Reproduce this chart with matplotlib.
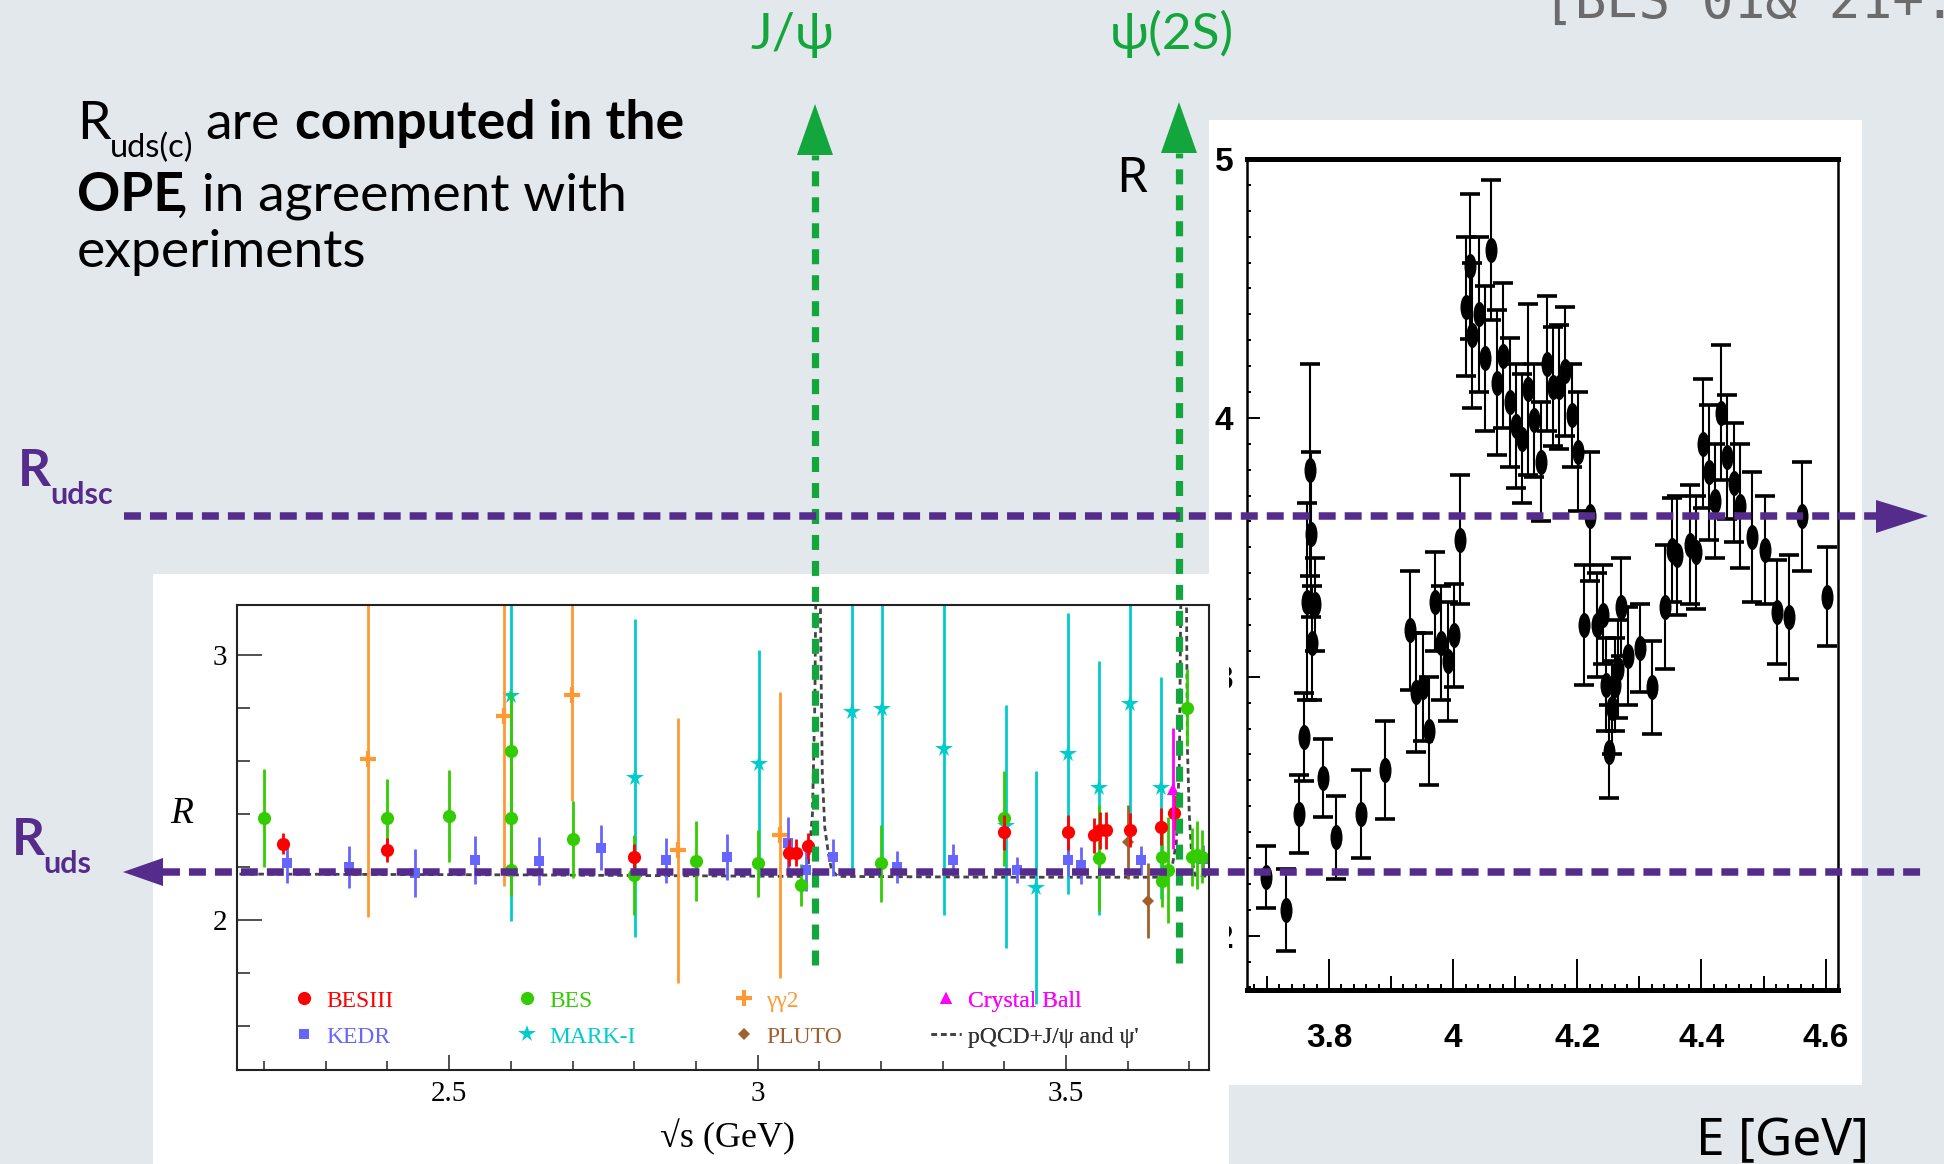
import matplotlib
matplotlib.use('Agg')
import numpy as np
import matplotlib.pyplot as plt
from matplotlib.lines import Line2D
from matplotlib.markers import MarkerStyle
from matplotlib.patches import Rectangle, Polygon
from matplotlib.transforms import Affine2D
from matplotlib.ticker import MultipleLocator, FixedLocator, FuncFormatter

plt.rcParams['lines.scale_dashes'] = False

W, H = 1944, 1164
BG = '#e3e8ed'
PURPLE = '#552b8c'
GREEN = '#12a63c'

# ---- left inset: R ratio below charm threshold ----
besiii_e = [2.231, 2.400, 2.800, 3.051, 3.063, 3.082, 3.400, 3.503, 3.545, 3.555, 3.565, 3.604, 3.654, 3.675]
besiii_r = [2.289, 2.264, 2.237, 2.255, 2.255, 2.280, 2.331, 2.331, 2.320, 2.340, 2.340, 2.340, 2.352, 2.406]
besiii_err = [0.04, 0.045, 0.05, 0.05, 0.05, 0.05, 0.065, 0.065, 0.065, 0.07, 0.07, 0.065, 0.07, 0.065]

bes_e = [2.200, 2.400, 2.500, 2.600, 2.600, 2.600, 2.700, 2.800, 2.900, 3.000, 3.070,
         3.200, 3.400, 3.553, 3.655, 3.655, 3.666, 3.696, 3.704, 3.712, 3.720]
bes_r = [2.384, 2.384, 2.393, 2.640, 2.384, 2.190, 2.305, 2.170, 2.223, 2.214, 2.132,
         2.214, 2.384, 2.233, 2.239, 2.149, 2.190, 2.802, 2.238, 2.246, 2.240]
bes_err = [0.185, 0.15, 0.175, 0.22, 0.20, 0.10, 0.145, 0.15, 0.15, 0.125, 0.08,
           0.145, 0.18, 0.20, 0.10, 0.10, 0.20, 0.145, 0.11, 0.13, 0.10]

gg2_e = [2.369, 2.589, 2.699, 2.871, 3.036]
gg2_r = [2.610, 2.770, 2.850, 2.264, 2.323]
gg2_err = [0.60, 0.64, 0.40, 0.50, 0.54]

markI_e = [2.600, 2.801, 3.002, 3.153, 3.202, 3.303, 3.403, 3.452, 3.503, 3.553, 3.604, 3.654]
markI_r = [2.846, 2.538, 2.591, 2.786, 2.796, 2.648, 2.354, 2.122, 2.628, 2.498, 2.818, 2.498]
markI_err = [0.85, 0.60, 0.43, 0.60, 0.60, 0.63, 0.46, 0.44, 0.53, 0.48, 0.45, 0.42]

cb_e = [3.674]
cb_r = [2.497]
cb_err = [0.23]

pluto_e = [3.600, 3.633]
pluto_r = [2.295, 2.074]
pluto_err = [0.14, 0.143]

kedr_e = [2.237, 2.338, 2.444, 2.542, 2.645, 2.746, 2.851, 2.951, 3.050, 3.078, 3.122,
          3.226, 3.317, 3.421, 3.504, 3.524, 3.622, 3.723]
kedr_r = [2.214, 2.201, 2.179, 2.226, 2.223, 2.273, 2.226, 2.238, 2.290, 2.190, 2.238,
          2.200, 2.226, 2.190, 2.228, 2.208, 2.226, 2.230]
kedr_err = [0.075, 0.08, 0.09, 0.09, 0.09, 0.085, 0.085, 0.088, 0.10, 0.08, 0.07,
            0.06, 0.06, 0.05, 0.06, 0.07, 0.055, 0.055]

# pQCD + J/psi and psi' curve
pqcd_e = [2.16, 2.60, 3.00, 3.070, 3.082, 3.089, 3.093, 3.095, 3.101, 3.103, 3.105, 3.109,
          3.115, 3.120, 3.130, 3.40, 3.660, 3.672, 3.679, 3.684, 3.687, 3.695, 3.697,
          3.700, 3.704, 3.709, 3.732]
pqcd_r = [2.174, 2.171, 2.166, 2.165, 2.20, 2.40, 2.83, 3.40, 3.40, 2.95, 2.55, 2.35,
          2.25, 2.19, 2.165, 2.162, 2.162, 2.20, 2.29, 2.60, 3.40, 3.40, 2.65,
          2.40, 2.24, 2.17, 2.165]

# ---- right inset: BES scan above charm threshold ----
scan_e = [3.698, 3.731, 3.751, 3.760, 3.765, 3.769, 3.771, 3.773, 3.778, 3.791, 3.811,
          3.851, 3.891, 3.931, 3.941, 3.951, 3.961, 3.971, 3.981, 3.991, 4.001, 4.011,
          4.021, 4.027, 4.031, 4.041, 4.051, 4.061, 4.071, 4.081, 4.091, 4.101, 4.111,
          4.121, 4.131, 4.141, 4.151, 4.161, 4.171, 4.181, 4.191, 4.201, 4.211, 4.221,
          4.231, 4.241, 4.246, 4.251, 4.256, 4.261, 4.266, 4.271, 4.281, 4.301, 4.321,
          4.342, 4.352, 4.361, 4.382, 4.392, 4.402, 4.412, 4.422, 4.432, 4.442, 4.452,
          4.462, 4.482, 4.502, 4.522, 4.541, 4.562, 4.602]
scan_r = [2.225, 2.099, 2.471, 2.769, 3.29, 3.80, 3.55, 3.13, 3.28, 2.61, 2.38,
          2.47, 2.64, 3.18, 2.94, 2.96, 2.79, 3.29, 3.13, 3.06, 3.16, 3.53,
          4.43, 4.585, 4.32, 4.40, 4.23, 4.65, 4.135, 4.24, 4.06, 3.97, 3.92,
          4.11, 3.99, 3.83, 4.21, 4.12, 4.12, 4.18, 4.01, 3.87, 3.20, 3.62,
          3.20, 3.24, 2.97, 2.71, 2.88, 2.97, 3.03, 3.27, 3.08, 3.11, 2.96,
          3.27, 3.49, 3.47, 3.51, 3.48, 3.90, 3.79, 3.68, 4.02, 3.85, 3.75,
          3.66, 3.54, 3.49, 3.25, 3.23, 3.62, 3.31]
scan_err = [0.12, 0.16, 0.15, 0.17, 0.38, 0.41, 0.32, 0.22, 0.18, 0.15, 0.16,
            0.17, 0.19, 0.23, 0.23, 0.21, 0.21, 0.19, 0.22, 0.23, 0.20, 0.25,
            0.27, 0.28, 0.28, 0.30, 0.28, 0.27, 0.28, 0.28, 0.25, 0.24, 0.25,
            0.33, 0.22, 0.23, 0.26, 0.23, 0.24, 0.25, 0.20, 0.23, 0.23, 0.25,
            0.20, 0.19, 0.18, 0.18, 0.18, 0.18, 0.19, 0.19, 0.19, 0.17, 0.18,
            0.24, 0.20, 0.23, 0.23, 0.22, 0.25, 0.26, 0.22, 0.26, 0.24, 0.23,
            0.24, 0.25, 0.21, 0.20, 0.24, 0.21, 0.19]

RED, GRN, ORANGE, MAGENTA = '#ff0000', '#33cc00', '#ff9933', '#ff00ff'
BLUE, CYAN, BROWN, DOT = '#6666ff', '#00cccc', '#a0602d', '#444444'


def box(x0, y0, x1, y1):
    return [x0 / W, 1 - y1 / H, (x1 - x0) / W, (y1 - y0) / H]


fig = plt.figure(figsize=(W / 100, H / 100), dpi=100, facecolor=BG)

# white panels behind the two pasted plots
for (x0, y0, x1, y1), z in [((1209, 120, 1862, 1085), 0.5), ((153, 574, 1229, 1164), 2)]:
    b = box(x0, y0, x1, y1)
    fig.add_artist(Rectangle((b[0], b[1]), b[2], b[3], transform=fig.transFigure,
                             fc='white', ec='none', zorder=z))

# ---------------- right plot ----------------
ax_r = fig.add_axes(box(1247, 159, 1838, 990), zorder=1)
ax_r.set_xlim(3.668, 4.62)
ax_r.set_ylim(1.79, 5.0)
ax_r.errorbar(scan_e, scan_r, yerr=scan_err, fmt='none', ecolor='black',
              elinewidth=1.5, capsize=7.5, capthick=2.6)
oval = MarkerStyle('o', transform=Affine2D().scale(0.45, 1.0))
ax_r.plot(scan_e, scan_r, ls='none', marker=oval, ms=17, color='black')
for s in ['left', 'right']:
    ax_r.spines[s].set_linewidth(1.8)
for s in ['top', 'bottom']:
    ax_r.spines[s].set_linewidth(3.6)
ax_r.tick_params(which='both', direction='in', top=False, right=False,
                 width=1.4, colors='black')
ax_r.tick_params(axis='y', which='major', length=9, pad=10)
ax_r.tick_params(axis='y', which='minor', length=3)
ax_r.tick_params(axis='x', which='major', length=22, pad=24)
ax_r.tick_params(axis='x', which='minor', length=4.5)
ax_r.yaxis.set_major_locator(MultipleLocator(1))
ax_r.yaxis.set_minor_locator(MultipleLocator(0.1))
xmaj = [round(v, 1) for v in np.arange(3.7, 4.61, 0.1)]
ax_r.xaxis.set_major_locator(FixedLocator(xmaj))
ax_r.xaxis.set_minor_locator(MultipleLocator(0.02))
ax_r.xaxis.set_major_formatter(FuncFormatter(
    lambda v, p: ('%g' % round(v, 1)) if abs(v * 5 - round(v * 5)) < 1e-6 else ''))
for t, v in zip(ax_r.xaxis.get_major_ticks(), xmaj):
    if abs(v * 5 - round(v * 5)) > 1e-6:
        t.tick1line.set_markersize(10)
for lab in ax_r.get_xticklabels() + ax_r.get_yticklabels():
    lab.set_fontfamily(['Liberation Sans Narrow', 'Liberation Sans'])
    lab.set_fontweight('bold')
    lab.set_fontsize(24)

# ---------------- left plot ----------------
ax_l = fig.add_axes(box(237, 605, 1209, 1070), zorder=3)
ax_l.set_xlim(2.156, 3.732)
ax_l.set_ylim(1.434, 3.19)
ax_l.plot(pqcd_e, pqcd_r, color=DOT, lw=2, dashes=(4.0, 2.8), zorder=1.5)

series = [
    (markI_e, markI_r, markI_err, '*', CYAN, 13, 0),
    (gg2_e, gg2_r, gg2_err, '+', ORANGE, 11, 3),
    (kedr_e, kedr_r, kedr_err, 's', BLUE, 7.5, 0),
    (bes_e, bes_r, bes_err, 'o', GRN, 9.5, 0),
    (pluto_e, pluto_r, pluto_err, 'D', BROWN, 6.5, 0),
    (besiii_e, besiii_r, besiii_err, 'o', RED, 9.5, 0),
    (cb_e, cb_r, cb_err, '^', MAGENTA, 8.5, 0),
]
for i, (xe, yr, er, mk, c, ms, mew) in enumerate(series):
    ax_l.errorbar(xe, yr, yerr=er, fmt=mk, color=c, ms=ms, mew=mew,
                  elinewidth=2, capsize=0, zorder=2 + i * 0.1)

for s in ax_l.spines.values():
    s.set_linewidth(1.5)
    s.set_color('#222222')
ax_l.tick_params(which='both', direction='in', top=False, right=False,
                 width=1.1, colors='#222222', labelcolor='black', labelsize=21)
ax_l.tick_params(axis='y', which='major', length=18, pad=7)
ax_l.tick_params(axis='y', which='minor', length=9)
ax_l.tick_params(axis='x', which='major', length=11, pad=8)
ax_l.tick_params(axis='x', which='minor', length=6.5)
ax_l.xaxis.set_major_locator(MultipleLocator(0.5))
ax_l.xaxis.set_minor_locator(MultipleLocator(0.1))
ax_l.yaxis.set_major_locator(MultipleLocator(1))
ax_l.yaxis.set_minor_locator(MultipleLocator(0.2))
ax_l.xaxis.set_major_formatter(FuncFormatter(lambda v, p: '%g' % v))
for lab in ax_l.get_xticklabels() + ax_l.get_yticklabels():
    lab.set_fontfamily('Liberation Serif')

# legend in four hand-placed columns
fs_leg = 17
legend_cols = [
    (304, [('o', RED, 9.5, 0, 'BESIII'), ('s', BLUE, 7.5, 0, 'KEDR')]),
    (527, [('o', GRN, 9.5, 0, 'BES'), ('*', CYAN, 13, 0, 'MARK-I')]),
    (744, [('+', ORANGE, 11, 3, 'γγ2'), ('D', BROWN, 6.5, 0, 'PLUTO')]),
    (946, [('^', MAGENTA, 8.5, 0, 'Crystal Ball'), (None, DOT, 0, 0, "pQCD+J/ψ and ψ'")]),
]
for xc, entries in legend_cols:
    handles, labels, colors = [], [], []
    for mk, c, ms, mew, lab in entries:
        if mk is None:
            handles.append(Line2D([], [], color=c, lw=2, dashes=(4.0, 2.8)))
            colors.append('#333333')
        else:
            handles.append(Line2D([], [], ls='none', marker=mk, color=c, ms=ms, mew=mew))
            colors.append(c)
        labels.append(lab)
    leg = ax_l.legend(handles, labels, loc='upper left',
                      bbox_to_anchor=((xc - 15) / W, 1 - 990 / H),
                      bbox_transform=fig.transFigure, frameon=False, borderpad=0,
                      borderaxespad=0, handlelength=30 / 23.6, handletextpad=0.3,
                      labelspacing=0.62, numpoints=1, labelcolor=colors,
                      prop={'family': 'Liberation Serif', 'size': fs_leg})
    ax_l.add_artist(leg)

# ---------------- overlay: slide annotations in pixel units ----------------
ov = fig.add_axes([0, 0, 1, 1], zorder=10)
ov.set_xlim(0, W)
ov.set_ylim(H, 0)
ov.axis('off')
ov.patch.set_visible(False)

# resonance markers
for x, ybot, ytop, ytip in [(815, 965, 155, 104), (1179, 963, 153, 102)]:
    ov.plot([x, x], [ybot, ytop], color=GREEN, lw=5.2, dashes=(10.8, 7.9))
    ov.add_patch(Polygon([(x - 18, ytop), (x + 18, ytop), (x, ytip)], closed=True,
                         fc=GREEN, ec='none'))

# R_udsc and R_uds levels
ov.plot([124, 1876], [516, 516], color=PURPLE, lw=5.4, dashes=(12.2, 6.5))
ov.add_patch(Polygon([(1876, 500), (1876, 533), (1928, 516)], closed=True, fc=PURPLE, ec='none'))
ov.plot([163, 1928], [872, 872], color=PURPLE, lw=5.4, dashes=(12.2, 6.5))
ov.add_patch(Polygon([(163, 858), (163, 886), (123, 872)], closed=True, fc=PURPLE, ec='none'))

lato = ['Lato', 'DejaVu Sans']
ov.text(18, 486, 'R', color=PURPLE, fontsize=37, fontweight='bold', family=lato, va='baseline')
ov.text(50, 504, 'udsc', color=PURPLE, fontsize=22, fontweight='bold', family=lato, va='baseline')
ov.text(12, 855, 'R', color=PURPLE, fontsize=37, fontweight='bold', family=lato, va='baseline')
ov.text(43, 873, 'uds', color=PURPLE, fontsize=22, fontweight='bold', family=lato, va='baseline')

ov.text(792, 49, 'J/ψ', color=GREEN, fontsize=37, family=lato, ha='center', va='baseline')
ov.text(1172, 49, 'ψ(2S)', color=GREEN, fontsize=37, family=lato, ha='center', va='baseline')

ov.text(1543, 18, '[BES 01& 21+.', color='#6b6b6b', fontsize=38,
        family='DejaVu Sans Mono', va='baseline')

fs_txt = 38.5
ov.text(77, 139, 'R', fontsize=fs_txt, family=lato, va='baseline')
ov.text(110, 157, 'uds(c)', fontsize=23.5, family=lato, va='baseline')
ov.text(205, 139, 'are', fontsize=fs_txt, family=lato, va='baseline')
ov.text(295, 139, 'computed in the', fontsize=fs_txt, fontweight='bold', family=lato, va='baseline')
ov.text(77, 211, 'OPE', fontsize=fs_txt, fontweight='bold', family=lato, va='baseline')
ov.text(176, 211, ', in agreement with', fontsize=fs_txt, family=lato, va='baseline')
ov.text(77, 267, 'experiments', fontsize=fs_txt, family=lato, va='baseline')

ov.text(1116, 192, 'R', fontsize=36, family='Noto Sans', va='baseline')
ov.text(1696, 1155, 'E [GeV]', fontsize=37, family='Noto Sans', va='baseline')

ov.text(170, 823, 'R', fontsize=27, family='Liberation Serif', style='italic', va='baseline')
ov.text(727, 1147, '√s (GeV)', fontsize=26, family='Liberation Serif', ha='center', va='baseline')

fig.savefig('out.png', dpi=100, facecolor=BG)
